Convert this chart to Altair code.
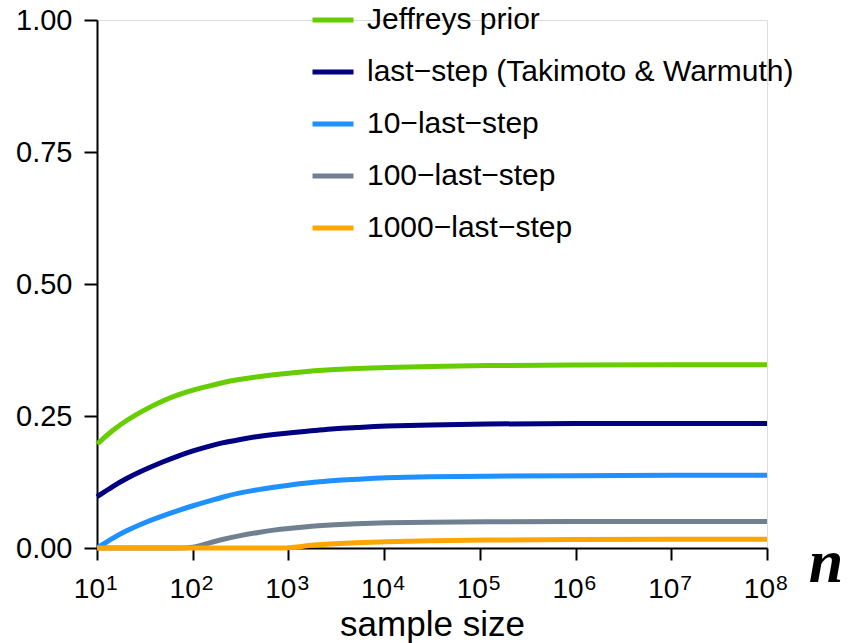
import altair as alt
import pandas as pd

# ---- data ----
n_grid = [10, 15, 20, 30, 50, 70, 100, 150, 200, 300, 500, 700, 1000, 1500,
          2000, 3000, 5000, 10000, 30000, 100000, 1e6, 1e7, 1e8]

jeffreys = [0.197, 0.225, 0.241, 0.260, 0.280, 0.290, 0.299, 0.307, 0.313, 0.319,
            0.325, 0.328, 0.331, 0.334, 0.336, 0.338, 0.340, 0.342, 0.344, 0.3455,
            0.3465, 0.347, 0.347]
last_step = [0.097, 0.118, 0.131, 0.147, 0.164, 0.174, 0.184, 0.193, 0.199, 0.205,
             0.212, 0.215, 0.218, 0.221, 0.223, 0.226, 0.228, 0.231, 0.233, 0.235,
             0.236, 0.236, 0.236]
ten_last = [0.0, 0.020, 0.032, 0.047, 0.062, 0.071, 0.080, 0.089, 0.096, 0.104,
            0.111, 0.115, 0.119, 0.123, 0.125, 0.128, 0.130, 0.133, 0.135, 0.136,
            0.137, 0.138, 0.138]
hundred_last = [0.0, 0.0, 0.0, 0.0, 0.0, 0.0, 0.0, 0.010, 0.016, 0.023,
                0.030, 0.034, 0.037, 0.040, 0.042, 0.044, 0.046, 0.048, 0.049, 0.050,
                0.050, 0.050, 0.050]
thousand_last = [0.0, 0.0, 0.0, 0.0, 0.0, 0.0, 0.0, 0.0, 0.0, 0.0,
                 0.0, 0.0, 0.0, 0.004, 0.006, 0.008, 0.010, 0.012, 0.014, 0.015,
                 0.016, 0.0165, 0.0165]

series_names = ["Jeffreys prior", "last\u2212step (Takimoto & Warmuth)",
                "10\u2212last\u2212step", "100\u2212last\u2212step", "1000\u2212last\u2212step"]
series_values = [jeffreys, last_step, ten_last, hundred_last, thousand_last]
series_colors = ["#66CD00", "#000080", "#1E90FF", "#708090", "#FFA500"]

tick_values = [1e1, 1e2, 1e3, 1e4, 1e5, 1e6, 1e7, 1e8]
tick_base = ["10"] * 8
tick_exponents = ["1", "2", "3", "4", "5", "6", "7", "8"]
y_ticks = [0.0, 0.25, 0.5, 0.75, 1.0]

rows = []
for order, (name, vals) in enumerate(zip(series_names, series_values)):
    for n, v in zip(n_grid, vals):
        rows.append({"n": n, "value": v, "series": name, "order": order})
df = pd.DataFrame(rows)

ticks_df = pd.DataFrame({"n": tick_values, "base": tick_base, "exp": tick_exponents})

FONT = "Liberation Sans"

x_scale = alt.Scale(type="log", domain=[10, 1e8])
y_scale = alt.Scale(domain=[0, 1])

lines = alt.Chart(df).mark_line(strokeWidth=5, interpolate="basis", strokeCap="butt").encode(
    x=alt.X("n:Q", scale=x_scale,
            axis=alt.Axis(values=tick_values, labels=False, title="sample size",
                          titleFontSize=35, titleFont=FONT, titleFontWeight="normal",
                          titleColor="black", titleBaseline="alphabetic", titleY=87,
                          tickSize=12, tickWidth=2, tickColor="black",
                          domainColor="black", domainWidth=2, grid=False)),
    y=alt.Y("value:Q", scale=y_scale,
            axis=alt.Axis(values=y_ticks, format=".2f", title=None,
                          labelFontSize=29, labelFont=FONT, labelColor="black",
                          labelPadding=12, tickSize=13, tickWidth=2, tickColor="black",
                          domainColor="black", domainWidth=2, grid=False)),
    color=alt.Color("series:N",
                    scale=alt.Scale(domain=series_names, range=series_colors),
                    sort=series_names,
                    legend=alt.Legend(orient="none", legendX=213, legendY=-23,
                                      title=None, symbolType="stroke", symbolSize=1681,
                                      symbolStrokeWidth=5, labelFontSize=30,
                                      labelFont=FONT, labelColor="black",
                                      labelOffset=11, rowPadding=14, labelLimit=700,
                                      padding=0)),
    detail="series:N",
    order="order:Q",
)

base_labels = alt.Chart(ticks_df).mark_text(
    align="right", baseline="alphabetic", fontSize=28, font=FONT, color="black", dx=8, dy=50
).encode(x=alt.X("n:Q", scale=x_scale), y=alt.datum(0, scale=y_scale), text="base:N")

exp_labels = alt.Chart(ticks_df).mark_text(
    align="left", baseline="alphabetic", fontSize=21, font=FONT, color="black", dx=9, dy=42
).encode(x=alt.X("n:Q", scale=x_scale), y=alt.datum(0, scale=y_scale), text="exp:N")

n_label = alt.Chart(pd.DataFrame({"t": ["n"]})).mark_text(
    align="center", baseline="alphabetic", fontSize=62, font="Liberation Serif",
    fontStyle="italic", fontWeight="bold", color="black", dx=59, dy=34
).encode(x=alt.datum(1e8, scale=x_scale), y=alt.datum(0, scale=y_scale), text="t:N")

chart = alt.layer(lines, base_labels, exp_labels, n_label).properties(
    width=670, height=528,
    autosize=alt.AutoSizeParams(type="none"),
    padding={"left": 97, "top": 20, "right": 88, "bottom": 95},
).configure_view(stroke=None).configure(background="white")

chart.save("out.html", embed_options={"renderer": "svg", "actions": False})
